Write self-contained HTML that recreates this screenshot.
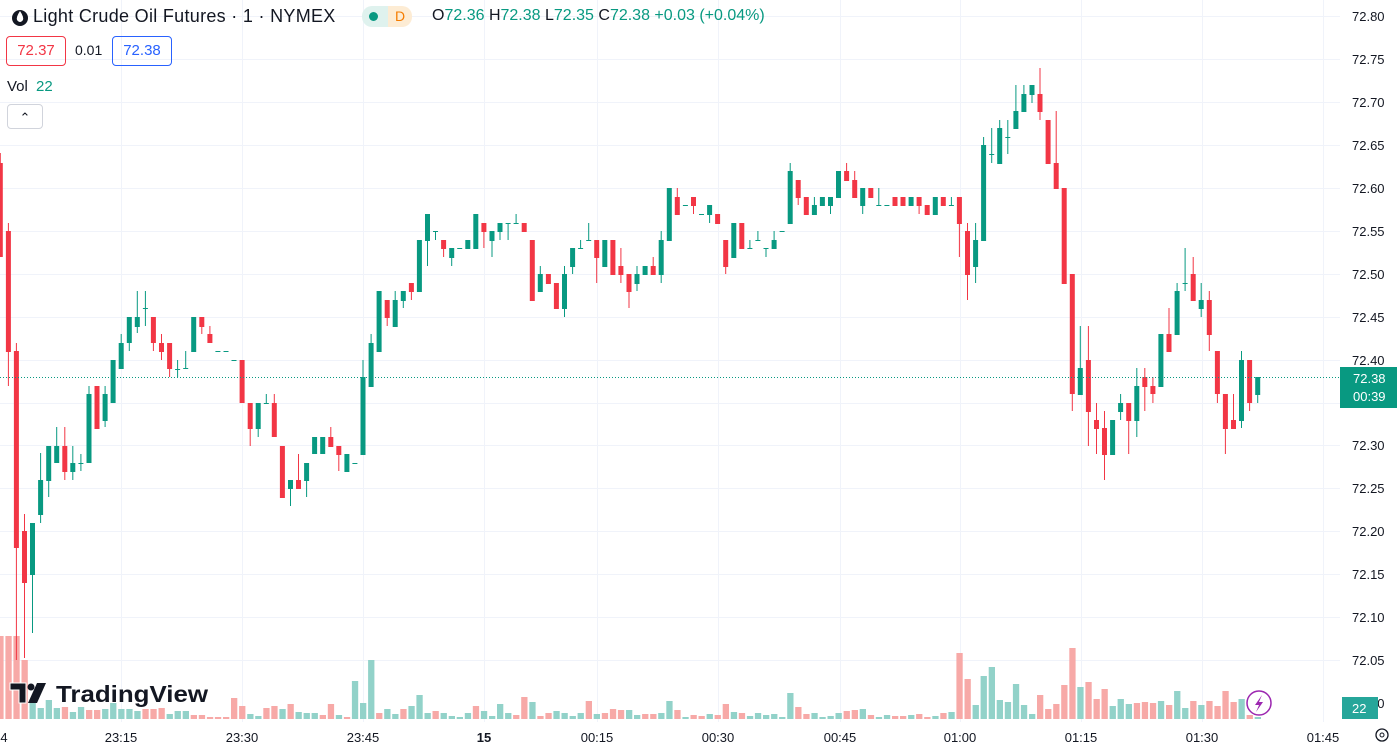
<!DOCTYPE html>
<html><head><meta charset="utf-8"><style>
body{margin:0;width:1397px;height:747px;overflow:hidden;background:#fff;font-family:"Liberation Sans",sans-serif;}
svg{position:absolute;left:0;top:0}
.t{font-size:13px;fill:#131722}
.hd{position:absolute;font-size:16px;color:#131722;white-space:nowrap}
</style></head><body>
<svg id="s" width="1397" height="747" xmlns="http://www.w3.org/2000/svg">
<g id="grid" stroke="#f0f3fa" stroke-width="1"></g>
<g id="vol"></g>
<g id="cdl"></g>
<line x1="0" y1="377.5" x2="1340" y2="377.5" stroke="#089981" stroke-dasharray="1,2"/>
<g class="t" id="pl">
<text x="1352" y="21">72.80</text><text x="1352" y="64">72.75</text><text x="1352" y="107">72.70</text>
<text x="1352" y="150">72.65</text><text x="1352" y="193">72.60</text><text x="1352" y="236">72.55</text>
<text x="1352" y="279">72.50</text><text x="1352" y="322">72.45</text><text x="1352" y="365">72.40</text>
<text x="1352" y="450">72.30</text><text x="1352" y="493">72.25</text><text x="1352" y="536">72.20</text>
<text x="1352" y="579">72.15</text><text x="1352" y="622">72.10</text><text x="1352" y="665">72.05</text>
<text x="1352" y="708">72.00</text>
</g>
<rect x="1340" y="367" width="57" height="41" fill="#089981"/>
<text x="1353" y="383" font-size="13" fill="#fff">72.38</text>
<text x="1353" y="401" font-size="13" fill="#fff">00:39</text>
<rect x="1342" y="697" width="36" height="22" fill="#26a69a"/>
<text x="1352" y="713" font-size="13" fill="#fff">22</text>
<g class="t" text-anchor="middle">
<text x="4" y="742">4</text><text x="121" y="742">23:15</text><text x="242" y="742">23:30</text>
<text x="363" y="742">23:45</text><text x="484" y="742" font-weight="bold">15</text><text x="597" y="742">00:15</text>
<text x="718" y="742">00:30</text><text x="840" y="742">00:45</text><text x="960" y="742">01:00</text>
<text x="1081" y="742">01:15</text><text x="1202" y="742">01:30</text><text x="1323" y="742">01:45</text>
</g>
<circle cx="1382" cy="735" r="6" fill="none" stroke="#131722" stroke-width="1.3"/><circle cx="1382" cy="735" r="2" fill="none" stroke="#131722"/>
<circle cx="1259" cy="703" r="12" fill="#fff" stroke="#9c27b0" stroke-width="1.5"/>
<path d="M1262 695 L1255 705 L1259 705 L1256 712 L1263 702 L1259 702 Z" fill="#9c27b0"/>
<g transform="translate(10,683)">
<path d="M0 0 H16 V20 H9 V7 H0 Z" fill="#131722" stroke="#fff" stroke-width="1"/>
<circle cx="21" cy="4" r="3.5" fill="#131722"/>
<path d="M18 20 L27 0 H36 L27 20 Z" fill="#131722"/>
<text x="46" y="19" font-size="23" font-weight="bold" fill="#131722" textLength="152" lengthAdjust="spacingAndGlyphs">TradingView</text>
</g>
<circle cx="20" cy="18" r="8" fill="#131722"/>
<path d="M20 11 Q24 17 23 20 Q20 24 17 20 Q16 17 20 11Z" fill="#fff"/>
</svg>
<div class="hd" style="left:33px;top:6px;font-size:18px;letter-spacing:0.3px">Light Crude Oil Futures · 1 · NYMEX</div>
<div style="position:absolute;left:362px;top:6px;width:26px;height:21px;background:#dff2ee;border-radius:10px 0 0 10px"></div>
<div style="position:absolute;left:388px;top:6px;width:24px;height:21px;background:#fdecd4;border-radius:0 10px 10px 0;color:#f57c00;font-size:14px;text-align:center;line-height:21px">D</div>
<div style="position:absolute;left:369px;top:12px;width:9px;height:9px;border-radius:5px;background:#089981"></div>
<div class="hd" style="left:432px;top:7px;font-size:16px;color:#089981"><span style="color:#131722">O</span>72.36 <span style="color:#131722">H</span>72.38 <span style="color:#131722">L</span>72.35 <span style="color:#131722">C</span>72.38 +0.03 (+0.04%)</div>
<div style="position:absolute;left:6px;top:36px;width:58px;height:28px;border:1px solid #f23645;border-radius:4px;color:#f23645;font-size:15px;text-align:center;line-height:28px">72.37</div>
<div class="hd" style="left:75px;top:42px;font-size:14px">0.01</div>
<div style="position:absolute;left:112px;top:36px;width:58px;height:28px;border:1px solid #2962ff;border-radius:4px;color:#2962ff;font-size:15px;text-align:center;line-height:28px">72.38</div>
<div class="hd" style="left:7px;top:78px;font-size:15px">Vol <span style="color:#089981;margin-left:4px">22</span></div>
<div style="position:absolute;left:7px;top:104px;width:34px;height:23px;border:1px solid #d1d4dc;border-radius:4px;text-align:center;font-size:13px;line-height:25px;color:#131722">&#8963;</div>
<script>
(function(){
var NS="http://www.w3.org/2000/svg";
function el(p,t,a){var e=document.createElementNS(NS,t);for(var k in a)e.setAttribute(k,a[k]);p.appendChild(e);return e;}
var g=document.getElementById('grid');
[121,242,363,484,597,718,840,960,1081,1202,1323].forEach(function(x){el(g,'line',{x1:x+.5,y1:0,x2:x+.5,y2:722});});
for(var y=16;y<=703;y+=42.95){var yy=Math.round(y)+.5;el(g,'line',{x1:0,y1:yy,x2:1340,y2:yy});}
var D=[[163,257,153,257],[231,352,223,386],[351,548,343,660],[531,583,514,658],[575,523,523,633],[515,480,453,523],[481,446,446,497],[463,446,427,463],[446,472,427,480],[472,463,446,480],[463,463,454,471],[463,394,386,463],[386,429,386,429],[421,394,386,427],[403,360,360,403],[369,343,334,369],[343,317,317,351],[327,317,291,333],[308,308,291,326],[317,343,317,351],[343,352,334,360],[343,369,343,377],[369,369,360,377],[369,368,351,369],[352,317,317,352],[317,327,317,334],[334,343,326,343],[351,351,351,351],[351,351,351,351],[360,360,360,360],[360,403,360,403],[403,429,403,446],[429,403,403,437],[403,403,394,403],[403,437,394,437],[446,498,446,498],[489,480,480,506],[480,489,454,489],[481,463,463,497],[454,437,437,454],[454,437,437,454],[437,447,427,447],[446,455,446,471],[472,454,454,472],[463,463,463,463],[455,377,360,455],[387,343,334,387],[352,291,291,352],[300,318,300,326],[327,300,291,327],[301,291,291,308],[283,292,283,300],[292,240,240,292],[241,214,214,266],[231,231,231,240],[240,249,240,257],[258,248,248,266],[248,248,248,248],[249,240,240,249],[249,214,214,249],[223,232,223,248],[241,231,231,257],[232,223,223,240],[223,223,223,240],[223,223,214,223],[223,232,223,232],[240,301,240,301],[292,274,266,292],[274,284,274,284],[283,309,283,309],[309,274,266,317],[267,248,248,274],[248,248,240,248],[240,240,223,240],[240,258,240,283],[267,240,240,267],[240,275,240,275],[266,275,248,283],[274,292,274,308],[284,274,266,291],[275,266,266,275],[266,275,257,275],[275,240,231,283],[241,188,188,241],[197,215,188,215],[205,205,205,205],[197,206,197,214],[214,214,214,214],[215,205,205,223],[214,224,214,224],[240,267,240,274],[258,223,223,258],[223,249,223,249],[248,248,240,248],[240,240,231,240],[248,248,248,257],[249,240,231,249],[231,231,231,231],[224,171,163,224],[180,198,180,205],[197,215,197,215],[215,205,197,215],[206,197,197,206],[206,197,197,214],[198,171,171,198],[171,181,163,181],[180,198,171,198],[206,188,188,214],[188,198,188,198],[205,205,188,205],[205,205,205,205],[197,206,197,206],[197,206,197,206],[206,197,197,206],[197,206,197,214],[205,215,205,215],[215,197,197,215],[197,206,197,206],[205,205,197,205],[197,224,197,257],[231,275,223,300],[267,240,223,283],[241,145,137,241],[154,154,128,163],[164,128,120,164],[137,137,120,154],[129,111,85,129],[112,94,85,112],[95,85,85,103],[94,112,68,120],[120,164,120,164],[163,189,111,189],[188,284,188,284],[274,394,274,411],[395,368,326,395],[360,412,326,446],[420,429,403,454],[428,455,411,480],[455,420,420,455],[412,403,394,420],[403,421,403,454],[421,386,368,437],[377,387,368,411],[386,394,377,403],[387,334,334,387],[334,352,308,352],[335,291,283,335],[283,283,248,291],[274,301,257,301],[309,300,283,317],[300,335,291,351],[351,394,351,403],[394,429,394,454],[420,429,394,429],[421,360,351,428],[360,403,360,411],[395,377,377,403]];
var V=[636,636,636,660,700,708,700,708,707,712,707,710,710,709,703,709,709,711,709,709,708,714,711,711,715,715,717,717,717,698,706,714,716,708,706,709,704,712,713,713,715,704,715,717,681,703,660,713,709,714,709,706,695,713,711,713,716,717,713,706,711,716,704,713,715,697,702,716,713,711,713,716,713,701,714,713,709,710,710,715,714,714,713,701,710,717,715,716,714,715,704,712,713,716,713,715,714,717,693,707,714,713,717,716,713,711,710,709,715,717,715,716,716,715,714,717,716,713,712,653,679,705,676,667,700,702,684,705,714,695,709,704,685,648,687,682,699,689,706,699,704,703,702,703,701,705,691,708,701,705,701,706,691,702,699,715,717];
var ov={0:1,1:1,2:1,3:1,8:1,11:1,12:1,18:1,19:1,20:1,24:1,25:1,26:1,27:1,28:1,29:1,30:1,33:1,34:1,36:1,40:1,41:1,43:1,47:1,50:1,54:1,59:1,64:1,65:1,67:1,68:1,73:1,75:1,76:1,77:1,80:1,81:1,84:1,86:1,87:1,89:1,90:1,92:1,99:1,100:1,105:1,106:1,108:1,111:1,112:1,114:1,115:1,117:1,119:1,120:1,129:1,130:1,131:1,132:1,133:1,135:1,136:1,137:1,141:1,142:1,143:1,145:1,148:1,150:1,151:1,152:1,153:1,155:1};
var cg=document.getElementById('cdl'),vg=document.getElementById('vol');
var GREEN='#089981',RED='#f23645';
for(var i=0;i<D.length;i++){
  var d=D[i],cx=8.06*i+0.3;
  var red=d[1]>d[0];var c=red?RED:GREEN;
  el(vg,'rect',{x:(cx-3).toFixed(1),y:V[i],width:6.3,height:719-V[i],fill:ov[i]?'#f7a9a7':'#92d2c9'});
  var bt=Math.min(d[0],d[1]),bh=Math.max(1,Math.abs(d[1]-d[0]));
  if(d[2]<bt||d[3]>bt+bh) el(cg,'rect',{x:(cx-0.5).toFixed(1),y:d[2],width:1,height:Math.max(1,d[3]-d[2]),fill:c});
  el(cg,'rect',{x:(cx-2.5).toFixed(1),y:bt,width:5,height:bh,fill:c});
}
})();
</script>
</body></html>
